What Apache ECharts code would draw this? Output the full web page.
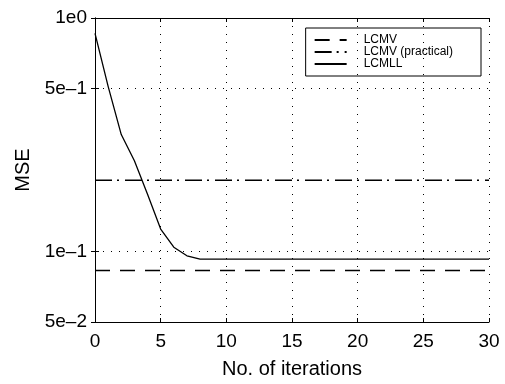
<!DOCTYPE html>
<html>
<head>
<meta charset="utf-8">
<script src="https://cdn.jsdelivr.net/npm/echarts@6/dist/echarts.min.js"></script>
<style>
  html, body { margin: 0; padding: 0; background: #fff; }
  #chart { width: 505px; height: 384px; }
</style>
</head>
<body>
<div id="chart"></div>
<script>
  // iterations and MSE of the adaptive LCMLL beamformer
  const iterations = [0, 1, 2, 3, 4, 5, 6, 7, 8, 9, 10, 15, 20, 25, 30];
  const lcmll = [0.86, 0.51, 0.317, 0.245, 0.176, 0.125, 0.1045, 0.096, 0.093, 0.093, 0.093, 0.093, 0.093, 0.093, 0.093];
  // reference levels (constant over iterations)
  const lcmvLevel = 0.083;
  const lcmvPracticalLevel = 0.202;
  const xRange = [0, 30];
  const yTicks = [0.05, 0.1, 0.5, 1];
  const yTickLabels = ['5e\u20132', '1e\u20131', '5e\u20131', '1e0'];

  const font = '"Liberation Sans", Arial, Helvetica, sans-serif';
  const dotted = { color: '#000', width: 1, type: [1, 7] };

  const myChart = echarts.init(document.getElementById('chart'));

  const flat = (v) => xRange.map(x => [x, v]);

  myChart.setOption({
    animation: false,
    textStyle: { fontFamily: font, color: '#000' },
    grid: { left: 95, top: 18, right: 16, bottom: 56 },
    legend: {
      orient: 'vertical',
      top: 28,
      right: 24,
      padding: [6, 28, 6, 8],
      borderColor: '#000',
      borderWidth: 1,
      itemWidth: 32,
      itemHeight: 11.5,
      itemGap: 0,
      itemStyle: { color: 'rgba(0,0,0,0)', borderWidth: 0 },
      textStyle: { fontFamily: font, fontSize: 12, lineHeight: 11.5, color: '#000', padding: [0, 0, 0, 12] },
      data: ['LCMV', 'LCMV (practical)', 'LCMLL']
    },
    xAxis: [{
      type: 'value',
      min: xRange[0],
      max: xRange[1],
      interval: 5,
      name: 'No. of iterations',
      nameLocation: 'middle',
      nameGap: 37,
      nameTextStyle: { fontSize: 20, color: '#000', fontFamily: font },
      axisLine: { lineStyle: { color: '#000', width: 1 } },
      axisTick: { inside: true, length: 4, lineStyle: { color: '#000' } },
      axisLabel: { fontSize: 19, color: '#000', margin: 10, fontFamily: font },
      splitLine: { show: true, lineStyle: dotted }
    }, {
      type: 'value',
      position: 'top',
      min: xRange[0],
      max: xRange[1],
      interval: 5,
      axisLine: { show: true, lineStyle: { color: '#000', width: 1 } },
      axisTick: { inside: true, length: 4, lineStyle: { color: '#000' } },
      axisLabel: { show: false },
      splitLine: { show: false }
    }],
    yAxis: [{
      type: 'log',
      logBase: 10,
      min: yTicks[0],
      max: yTicks[yTicks.length - 1],
      name: 'MSE',
      nameLocation: 'middle',
      nameGap: 60,
      nameTextStyle: { fontSize: 20, color: '#000', fontFamily: font },
      axisLine: { show: true, lineStyle: { color: '#000', width: 1 } },
      axisTick: { show: true, inside: true, length: 4, customValues: yTicks, lineStyle: { color: '#000' } },
      axisLabel: {
        fontSize: 19, color: '#000', margin: 8, fontFamily: font,
        customValues: yTicks,
        formatter: (v) => {
          const i = yTicks.findIndex(t => Math.abs(t - v) < 1e-9);
          return i >= 0 ? yTickLabels[i] : '';
        }
      },
      splitLine: { show: true, lineStyle: dotted }
    }, {
      type: 'log',
      logBase: 10,
      position: 'right',
      min: yTicks[0],
      max: yTicks[yTicks.length - 1],
      axisLine: { show: true, lineStyle: { color: '#000', width: 1 } },
      axisTick: { show: true, inside: true, length: 4, customValues: yTicks, lineStyle: { color: '#000' } },
      axisLabel: { show: false },
      splitLine: { show: false }
    }],
    series: [{
      name: 'LCMV',
      type: 'line',
      symbol: 'none',
      data: flat(lcmvLevel),
      lineStyle: { color: '#000', width: 1.6, type: [15, 10] },
      itemStyle: { color: '#000' }
    }, {
      name: 'LCMV (practical)',
      type: 'line',
      symbol: 'none',
      data: flat(lcmvPracticalLevel),
      lineStyle: { color: '#000', width: 1.6, type: [17, 5, 2, 6] },
      itemStyle: { color: '#000' }
    }, {
      name: 'LCMLL',
      type: 'line',
      symbol: 'none',
      data: iterations.map((x, i) => [x, lcmll[i]]),
      lineStyle: { color: '#000', width: 1.3 },
      itemStyle: { color: '#000' }
    }]
  });
</script>
</body>
</html>
